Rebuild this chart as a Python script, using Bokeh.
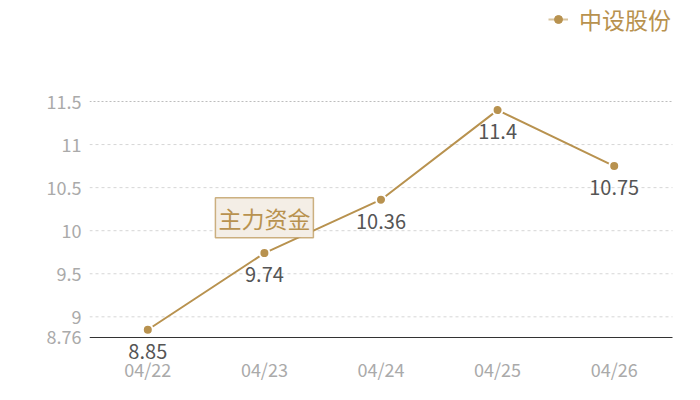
from bokeh.plotting import figure
from bokeh.models import Range1d, FixedTicker, Label, Legend, LegendItem, ColumnDataSource
from bokeh.embed import file_html
from bokeh.resources import INLINE

dates = ["04/22", "04/23", "04/24", "04/25", "04/26"]
prices = [8.85, 9.74, 10.36, 11.4, 10.75]
price_labels = ["8.85", "9.74", "10.36", "11.4", "10.75"]
y_ticks = [8.76, 9, 9.5, 10, 10.5, 11, 11.5]
y_tick_labels = ["8.76", "9", "9.5", "10", "10.5", "11", "11.5"]
grid_values = [9, 9.5, 10, 10.5, 11]
top_grid_value = [11.5]
series_name = "中设股份"
note_text = "主力资金"

FONT = "Noto Sans CJK SC"
TAN = "#b8924f"

xs = list(range(len(dates)))
src = ColumnDataSource(dict(x=xs, y=prices, t=price_labels))

# frame spans the whole canvas right of the y-axis so texts outside the plot area are not clipped
PX_X = 116.6
PX_Y = 86.13
x0 = -0.5
x1 = x0 + (684 - 89) / PX_X
y_top = 11.5 + 101 / PX_Y
y_bot = 8.76 - (396 - 337) / PX_Y

p = figure(width=684, height=396, output_backend="svg", toolbar_location=None,
           x_range=Range1d(x0, x1), y_range=Range1d(y_bot, y_top),
           min_border_left=89, min_border_right=0, min_border_top=0, min_border_bottom=0)
p.outline_line_color = None
p.background_fill_color = "white"

# grid lines
n = len(dates)
p.segment(x0=[-0.5] * len(grid_values), x1=[n - 0.5] * len(grid_values), y0=grid_values, y1=grid_values,
          line_color="#d6d6d6", line_width=1, line_dash="3 3")
p.segment(x0=[-0.5], x1=[n - 0.5], y0=top_grid_value, y1=top_grid_value,
          line_color="#bdbdbd", line_width=1, line_dash="2 2")

ln = p.line("x", "y", source=src, line_color=TAN, line_width=2)
sc = p.scatter("x", "y", source=src, size=10, fill_color=TAN, line_color="white", line_width=2)

# legend-only glyphs (no visible data)
nan = float("nan")
proxy = ColumnDataSource(dict(x=[nan], y=[nan]))
lg_line = p.line("x", "y", source=proxy, line_color=TAN, line_alpha=0.55, line_width=2)
lg_dot = p.scatter("x", "y", source=proxy, size=11, fill_color=TAN, line_color=TAN)

for xi, yi, ti in zip(xs, prices, price_labels):
    p.add_layout(Label(x=xi, y=yi, text=ti, y_offset=-14, text_align="center",
                       text_baseline="top", text_color="#555555", text_font=FONT,
                       text_font_size="20px"))

# axes
p.xaxis.ticker = FixedTicker(ticks=xs)
p.xaxis.fixed_location = 8.76
p.xaxis.bounds = (-0.5, n - 0.5)
p.xaxis.major_label_overrides = {i: d for i, d in enumerate(dates)}
p.xaxis.major_tick_line_color = None
p.xaxis.major_tick_out = 0
p.xaxis.major_tick_in = 0
p.xaxis.minor_tick_line_color = None
p.xaxis.axis_line_color = "#333333"
p.xaxis.axis_line_width = 1
p.xaxis.major_label_standoff = 19
p.xaxis.major_label_text_color = "#aaaaaa"
p.xaxis.major_label_text_font = FONT
p.xaxis.major_label_text_font_size = "18px"

p.yaxis.ticker = FixedTicker(ticks=y_ticks)
p.yaxis.major_label_overrides = {v: s for v, s in zip(y_ticks, y_tick_labels)}
p.yaxis.major_tick_line_color = None
p.yaxis.major_tick_out = 0
p.yaxis.major_tick_in = 0
p.yaxis.minor_tick_line_color = None
p.yaxis.axis_line_color = None
p.yaxis.major_label_standoff = 8
p.yaxis.major_label_text_color = "#aaaaaa"
p.yaxis.major_label_text_font = FONT
p.yaxis.major_label_text_font_size = "18px"

p.xgrid.grid_line_color = None
p.ygrid.grid_line_color = None

note = Label(x=1, y=10.15, text=note_text, text_align="center", text_baseline="middle",
             text_color=TAN, text_font=FONT, text_font_size="23px",
             background_fill_color="#f4eee6", border_line_color=TAN, border_line_alpha=0.7,
             border_line_width=1.5, padding=3)
p.add_layout(note)

legend = Legend(items=[LegendItem(label=series_name, renderers=[lg_line, lg_dot])],
                location=(459, 360), orientation="horizontal",
                label_text_color=TAN, label_text_font=FONT, label_text_font_size="23px",
                glyph_width=20, border_line_color=None, background_fill_alpha=0,
                padding=0, margin=0, label_standoff=11)
p.add_layout(legend, "center")

open("out.html", "w").write(file_html(p, INLINE))
